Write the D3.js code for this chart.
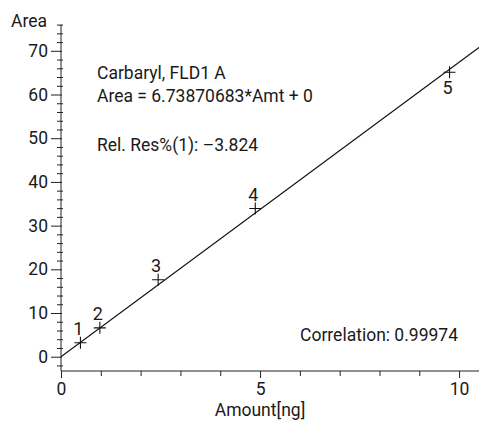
<!DOCTYPE html>
<html><head><meta charset="utf-8">
<script src="https://cdn.jsdelivr.net/npm/d3@7/dist/d3.min.js"></script>
<style>
body{margin:0;background:#fff;}
text{font-family:Roboto,"Liberation Sans",sans-serif;fill:#1a1a1a;}
</style></head><body>
<svg id="c" width="479" height="421"></svg>
<script>
// Data
const labels = ["1","2","3","4","5"];
const amounts = [0.488, 0.976, 2.44, 4.88, 9.76];
const areas = [3.2, 6.6, 17.6, 33.9, 65.1];
const slope = 6.73870683;
const intercept = 0;
const xMajorTicks = [0, 5, 10];
const yMajorTicks = [0, 10, 20, 30, 40, 50, 60, 70];
const annotations = ["Carbaryl, FLD1 A", "Area = 6.73870683*Amt + 0", "Rel. Res%(1): \u20133.824"];
const correlationText = "Correlation: 0.99974";

const svg = d3.select("#c");
const x = d3.scaleLinear().domain([0, 10.5]).range([61, 479]);
const y = d3.scaleLinear().domain([-3.27, 76]).range([371, 24.6]);
const fs = 17.5;

// Y axis
const yMinor = d3.range(-2, 77, 2).filter(v => v % 10 !== 0);
const gy = svg.append("g").attr("transform", `translate(${x(0)},0)`);
gy.call(d3.axisLeft(y).tickValues(yMinor).tickSize(4).tickFormat(""))
  .call(g => g.select(".domain").remove())
  .call(g => g.selectAll(".tick line").attr("x1", 2).attr("stroke", "#222"));
const gy2 = svg.append("g").attr("transform", `translate(${x(0)},0)`);
gy2.call(d3.axisLeft(y).tickValues(yMajorTicks).tickSize(10).tickPadding(3))
  .call(g => g.select(".domain").remove())
  .call(g => g.selectAll(".tick line").attr("x1", 1).attr("stroke", "#222"))
  .call(g => g.selectAll(".tick text").attr("font-size", fs).attr("fill", "#1a1a1a").style("font-family", null));
svg.append("line").attr("x1", x(0)).attr("x2", x(0)).attr("y1", y(76)).attr("y2", y(-3.27)).attr("stroke", "#222");

// X axis
const xMinor = d3.range(1, 11, 1).filter(v => v % 5 !== 0);
const gx = svg.append("g").attr("transform", `translate(0,${y(-3.27)})`);
gx.call(d3.axisBottom(x).tickValues(xMinor).tickSize(5).tickFormat(""))
  .call(g => g.select(".domain").remove())
  .call(g => g.selectAll(".tick line").attr("stroke", "#222"));
const gx2 = svg.append("g").attr("transform", `translate(0,${y(-3.27)})`);
gx2.call(d3.axisBottom(x).tickValues(xMajorTicks).tickSize(7).tickPadding(5))
  .call(g => g.select(".domain").remove())
  .call(g => g.selectAll(".tick line").attr("stroke", "#222"))
  .call(g => g.selectAll(".tick text").attr("font-size", fs).attr("fill", "#1a1a1a").style("font-family", null));
svg.append("line").attr("x1", x(0)).attr("x2", x(10.5)).attr("y1", y(-3.27)).attr("y2", y(-3.27)).attr("stroke", "#222");

// Axis titles
svg.append("text").attr("x", 11).attr("y", 27).attr("font-size", fs).text("Area");
svg.append("text").attr("x", 260).attr("y", 416).attr("text-anchor", "middle").attr("font-size", fs).text("Amount[ng]");

// Regression line
const xEnd = 10.6;
svg.append("line")
  .attr("x1", x(0)).attr("y1", y(intercept))
  .attr("x2", x(xEnd)).attr("y2", y(slope * xEnd + intercept))
  .attr("stroke", "#111").attr("stroke-width", 1.1);

// Points
const pts = amounts.map((a, i) => ({a, v: areas[i], l: labels[i]}));
const pg = svg.append("g");
pg.selectAll("path.pt").data(pts).enter().append("path")
  .attr("d", d => `M${x(d.a)-6},${y(d.v)}H${x(d.a)+6}M${x(d.a)},${y(d.v)-6}V${y(d.v)+6}`)
  .attr("stroke", "#111").attr("stroke-width", 1.1).attr("fill", "none");
pg.selectAll("text.lbl").data(pts).enter().append("text")
  .attr("x", d => x(d.a) - 2)
  .attr("y", (d, i) => i === 4 ? y(d.v) + 22 : y(d.v) - 8)
  .attr("text-anchor", "middle").attr("font-size", 18).text(d => d.l);

// Annotations
const annY = [79, 102, 151];
svg.selectAll("text.ann").data(annotations).enter().append("text")
  .attr("x", 97).attr("y", (d, i) => annY[i]).attr("font-size", fs).text(d => d);
svg.append("text").attr("x", 458).attr("y", 341).attr("text-anchor", "end").attr("font-size", fs).text(correlationText);
</script></body></html>
